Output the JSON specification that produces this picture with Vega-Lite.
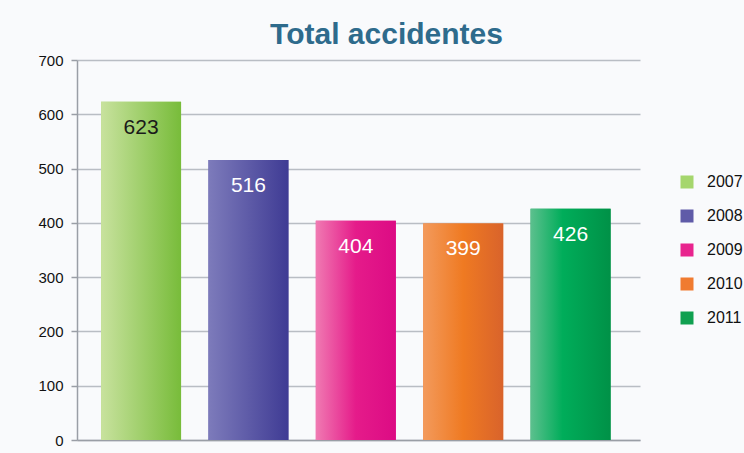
{
  "$schema": "https://vega.github.io/schema/vega-lite/v6.json",
  "width": 563,
  "height": 380,
  "autosize": {"type": "none"},
  "padding": {"left": 77, "top": 60, "right": 104, "bottom": 13},
  "background": "#f9fafc",
  "config": {"view": {"stroke": null}, "font": "Liberation Sans"},
  "title": {
    "text": "Total accidentes",
    "fontSize": 30,
    "font": "Liberation Sans",
    "fontWeight": "bold",
    "color": "#2e6b8c",
    "anchor": "middle",
    "dx": 28,
    "offset": 3
  },
  "data": {
    "values": [
      {"year": "2007", "accidentes": 623},
      {"year": "2008", "accidentes": 516},
      {"year": "2009", "accidentes": 404},
      {"year": "2010", "accidentes": 399},
      {"year": "2011", "accidentes": 426}
    ]
  },
  "encoding": {
    "x": {
      "field": "year",
      "type": "nominal",
      "scale": {"paddingInner": 0.255, "paddingOuter": 0.249, "align": 0.45},
      "axis": {"labels": false, "ticks": false, "title": null, "domainColor": "#9a9ea6", "domainWidth": 1.5}
    },
    "y": {
      "field": "accidentes",
      "type": "quantitative",
      "scale": {"domain": [0, 700]},
      "axis": {
        "values": [0, 100, 200, 300, 400, 500, 600, 700],
        "title": null,
        "grid": true,
        "gridColor": "#b9bdc4",
        "gridWidth": 1.5,
        "domainColor": "#9a9ea6",
        "domainWidth": 1.5,
        "tickColor": "#9a9ea6",
        "tickSize": 6,
        "tickWidth": 1.5,
        "labelFontSize": 15,
        "labelColor": "#111111",
        "labelPadding": 8,
        "labelFont": "Liberation Sans"
      }
    }
  },
  "layer": [
    {
      "mark": {"type": "bar"},
      "encoding": {
        "color": {
          "field": "year",
          "type": "nominal",
          "scale": {
            "domain": ["2007", "2008", "2009", "2010", "2011"],
            "range": ["#a5d66d", "#5f5ba8", "#e8248e", "#f07b30", "#10a050"]
          },
          "legend": {
            "title": null,
            "orient": "none",
            "legendX": 602,
            "legendY": 114,
            "symbolType": "square",
            "symbolSize": 169,
            "symbolStrokeWidth": 0,
            "symbolOpacity": 1,
            "labelFontSize": 16,
            "labelColor": "#111111",
            "labelFont": "Liberation Sans",
            "rowPadding": 18,
            "labelOffset": 12,
            "padding": 0
          }
        }
      }
    },
    {
      "transform": [{"filter": "datum.year === '2007'"}],
      "mark": {"type": "bar", "fill": {"gradient": "linear", "x1": 0, "x2": 1, "y1": 0, "y2": 0, "stops": [{"offset": 0, "color": "#c8e29e"}, {"offset": 1, "color": "#78bc3a"}]}},
      "encoding": {}
    },
    {
      "transform": [{"filter": "datum.year === '2008'"}],
      "mark": {"type": "bar", "fill": {"gradient": "linear", "x1": 0, "x2": 1, "y1": 0, "y2": 0, "stops": [{"offset": 0, "color": "#7d7bbb"}, {"offset": 1, "color": "#3f3b94"}]}},
      "encoding": {}
    },
    {
      "transform": [{"filter": "datum.year === '2009'"}],
      "mark": {"type": "bar", "fill": {"gradient": "linear", "x1": 0, "x2": 1, "y1": 0, "y2": 0, "stops": [{"offset": 0, "color": "#f07ab2"}, {"offset": 0.5, "color": "#e51b8a"}, {"offset": 1, "color": "#dc0b84"}]}},
      "encoding": {}
    },
    {
      "transform": [{"filter": "datum.year === '2010'"}],
      "mark": {"type": "bar", "fill": {"gradient": "linear", "x1": 0, "x2": 1, "y1": 0, "y2": 0, "stops": [{"offset": 0, "color": "#f39a5c"}, {"offset": 0.5, "color": "#ef7a22"}, {"offset": 1, "color": "#d9632b"}]}},
      "encoding": {}
    },
    {
      "transform": [{"filter": "datum.year === '2011'"}],
      "mark": {"type": "bar", "fill": {"gradient": "linear", "x1": 0, "x2": 1, "y1": 0, "y2": 0, "stops": [{"offset": 0, "color": "#5cc08e"}, {"offset": 0.4, "color": "#00ad5a"}, {"offset": 1, "color": "#009147"}]}},
      "encoding": {}
    },
    {
      "mark": {"type": "text", "baseline": "middle", "align": "center", "dy": 26, "fontSize": 21, "font": "Liberation Sans"},
      "encoding": {
        "text": {"field": "accidentes", "type": "quantitative"},
        "color": {"condition": {"test": "datum.year === '2007'", "value": "#1a1a1a"}, "value": "#ffffff"}
      }
    }
  ]
}
